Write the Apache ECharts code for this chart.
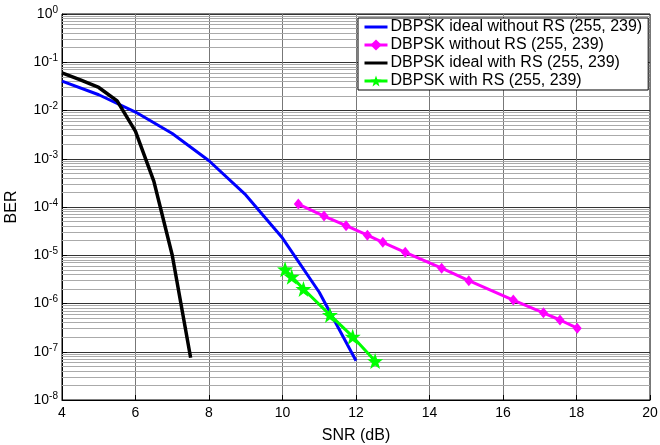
<!DOCTYPE html>
<html>
<head>
<meta charset="utf-8">
<script src="https://cdn.jsdelivr.net/npm/echarts@6/dist/echarts.min.js"></script>
<style>
  html, body { margin: 0; padding: 0; background: #fff; }
  #main { width: 660px; height: 445px; }
</style>
</head>
<body>
<div id="main"></div>
<script>
// SNR (dB) / BER values
const idealNoRsX = [4, 5, 6, 7, 8, 9, 10, 11, 12];
const idealNoRsY = [0.0406, 0.0212, 0.0093, 0.00333, 0.00091, 0.000178, 2.27e-5, 1.71e-6, 6.5e-8];

const noRsX = [10.43, 11.13, 11.73, 12.31, 12.73, 13.34, 14.33, 15.07, 16.28, 17.10, 17.55, 18.02];
const noRsY = [1.15e-4, 6.5e-5, 4.1e-5, 2.6e-5, 1.85e-5, 1.15e-5, 5.4e-6, 2.97e-6, 1.18e-6, 6.4e-7, 4.55e-7, 3.08e-7];

const idealRsX = [4, 4.5, 5, 5.5, 6, 6.5, 7, 7.5];
const idealRsY = [0.06, 0.043, 0.030, 0.0158, 0.0037, 3.4e-4, 1.0e-5, 7.5e-8];

const rsX = [10.07, 10.25, 10.57, 11.29, 11.91, 12.52];
const rsY = [5.1e-6, 3.6e-6, 2.0e-6, 5.8e-7, 2.05e-7, 6.4e-8];

const seriesNames = [
  'DBPSK ideal without RS (255, 239)',
  'DBPSK without RS (255, 239)',
  'DBPSK ideal with RS (255, 239)',
  'DBPSK with RS (255, 239)'
];

const decades = [-8, -7, -6, -5, -4, -3, -2, -1];
const minorSteps = [2, 3, 4, 5, 6, 7, 8, 9];
const xMin = 4, xMax = 20;

const starPath = 'path://M0,-10 L2.35,-3.24 L9.51,-3.09 L3.8,1.24 L5.88,8.09 L0,4 L-5.88,8.09 L-3.8,1.24 L-9.51,-3.09 L-2.35,-3.24 Z';

const zip = (xs, ys) => xs.map((x, i) => [x, ys[i]]);

// minor log grid lines (2..9 inside every decade)
const minorLines = [];
decades.forEach(d => minorSteps.forEach(m => {
  const v = m * Math.pow(10, d);
  minorLines.push({ coords: [[xMin, v], [xMax, v]] });
}));

const font = '"Liberation Sans", Arial, sans-serif';

const chart = echarts.init(document.getElementById('main'));
const option = {
  animation: false,
  textStyle: { fontFamily: font },
  grid: {
    left: 62, right: 10, top: 14, bottom: 45,
    outerBoundsMode: 'none',
    containLabel: false,
    show: true, borderColor: '#000', borderWidth: 1
  },
  legend: {
    data: [
      { name: seriesNames[0], itemStyle: { opacity: 0 } },
      { name: seriesNames[1] },
      { name: seriesNames[2], itemStyle: { opacity: 0 } },
      { name: seriesNames[3] }
    ],
    orient: 'vertical',
    left: 358,
    top: 18,
    itemWidth: 23,
    itemHeight: 14,
    itemGap: 0,
    padding: [0, 6, 0, 5],
    backgroundColor: '#fff',
    borderColor: '#000',
    borderWidth: 1,
    borderRadius: 0,
    lineStyle: { width: 3 },
    textStyle: { fontSize: 16, lineHeight: 18, color: '#000', fontFamily: font, padding: [0, 0, 0, -2] }
  },
  xAxis: {
    type: 'value',
    min: xMin, max: xMax, interval: 2,
    name: 'SNR (dB)',
    nameLocation: 'middle',
    nameGap: 28,
    nameTextStyle: { fontSize: 16, color: '#000' },
    axisLine: { lineStyle: { color: '#000', width: 1 } },
    axisTick: { inside: true, length: 5, lineStyle: { color: '#000' } },
    axisLabel: { fontSize: 14, color: '#000', margin: 6 },
    splitLine: { show: true, lineStyle: { color: '#777', width: 1 } }
  },
  yAxis: {
    type: 'log',
    logBase: 10,
    min: 1e-8, max: 1,
    name: 'BER',
    nameLocation: 'middle',
    nameGap: 42,
    nameTextStyle: { fontSize: 16, color: '#000' },
    axisLine: { lineStyle: { color: '#000', width: 1 } },
    axisTick: { inside: true, length: 5, lineStyle: { color: '#000' } },
    axisLabel: {
      margin: 4,
      formatter: v => '{b|10}{e|' + Math.round(Math.log10(v)) + '}',
      rich: {
        b: { fontSize: 14, color: '#000', fontFamily: font },
        e: { fontSize: 10, color: '#000', fontFamily: font, verticalAlign: 'top', padding: [0, 0, 8, 0] }
      }
    },
    splitLine: { show: true, lineStyle: { color: '#333', width: 1 } }
  },
  series: [
    {
      name: 'minor-grid',
      type: 'lines',
      coordinateSystem: 'cartesian2d',
      silent: true,
      z: 1,
      lineStyle: { color: '#aaa', width: 1, opacity: 1 },
      data: minorLines
    },
    {
      name: seriesNames[0],
      type: 'line',
      data: zip(idealNoRsX, idealNoRsY),
      symbol: 'none',
      lineStyle: { color: '#0000ff', width: 3 },
      itemStyle: { color: '#0000ff' }
    },
    {
      name: seriesNames[1],
      type: 'line',
      data: zip(noRsX, noRsY),
      symbol: 'diamond',
      symbolSize: [9, 11],
      lineStyle: { color: '#ff00ff', width: 3 },
      itemStyle: { color: '#ff00ff' }
    },
    {
      name: seriesNames[2],
      type: 'line',
      data: zip(idealRsX, idealRsY),
      symbol: 'none',
      lineStyle: { color: '#000', width: 3.5 },
      itemStyle: { color: '#000' }
    },
    {
      name: seriesNames[3],
      type: 'line',
      data: zip(rsX, rsY),
      symbol: starPath,
      symbolSize: 16,
      lineStyle: { color: '#00ff00', width: 3 },
      itemStyle: { color: '#00ff00' }
    }
  ]
};
chart.setOption(option);
</script>
</body>
</html>
